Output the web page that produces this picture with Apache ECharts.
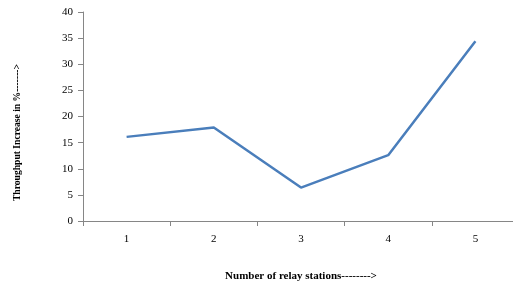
<!DOCTYPE html>
<html>
<head>
    <meta charset="utf-8">
    <script src="https://cdn.jsdelivr.net/npm/echarts@6/dist/echarts.min.js"></script>
</head>
<body style="margin:0;background:#fff">
<div id="main" style="width: 513px; height: 285px"></div>
<script type="text/javascript">
    var stations = ['1', '2', '3', '4', '5'];
    var throughputIncrease = [16.1, 17.9, 6.4, 12.6, 34.4];

    var myChart = echarts.init(document.getElementById('main'));
    var option = {
        backgroundColor: '#fff',
        animation: false,
        textStyle: {fontFamily: 'Liberation Serif'},
        grid: {left: 83, top: 12, width: 436, height: 209, outerBoundsMode: 'none', containLabel: false},
        xAxis: {
            type: 'category',
            data: stations,
            boundaryGap: true,
            name: 'Number of relay stations-------->',
            nameLocation: 'middle', nameGap: 50,
            nameTextStyle: {fontWeight: 'bold', fontSize: 11, color: '#000', fontFamily: 'Liberation Serif'},
            axisLine: {lineStyle: {color: '#868686', width: 1}},
            axisTick: {show: true, length: 5, lineStyle: {color: '#868686'}},
            axisLabel: {color: '#000', fontSize: 11, margin: 13}
        },
        yAxis: {
            type: 'value',
            min: 0, max: 40, interval: 5,
            splitLine: {show: false},
            axisLine: {show: true, lineStyle: {color: '#868686', width: 1}},
            axisTick: {show: true, length: 5, lineStyle: {color: '#868686'}},
            axisLabel: {color: '#000', fontSize: 11, margin: 10}
        },
        graphic: [{
            type: 'text',
            left: 13, top: 64,
            rotation: Math.PI / 2,
            style: {
                text: 'Throughput Increase in %------->',
                fill: '#000',
                font: 'bold 9.6px "Liberation Serif"'
            }
        }],
        series: [{
            type: 'line',
            data: throughputIncrease,
            symbol: 'none',
            lineStyle: {color: '#4a7ebb', width: 2.5}
        }]
    };
    myChart.setOption(option);
</script>
</body>
</html>
